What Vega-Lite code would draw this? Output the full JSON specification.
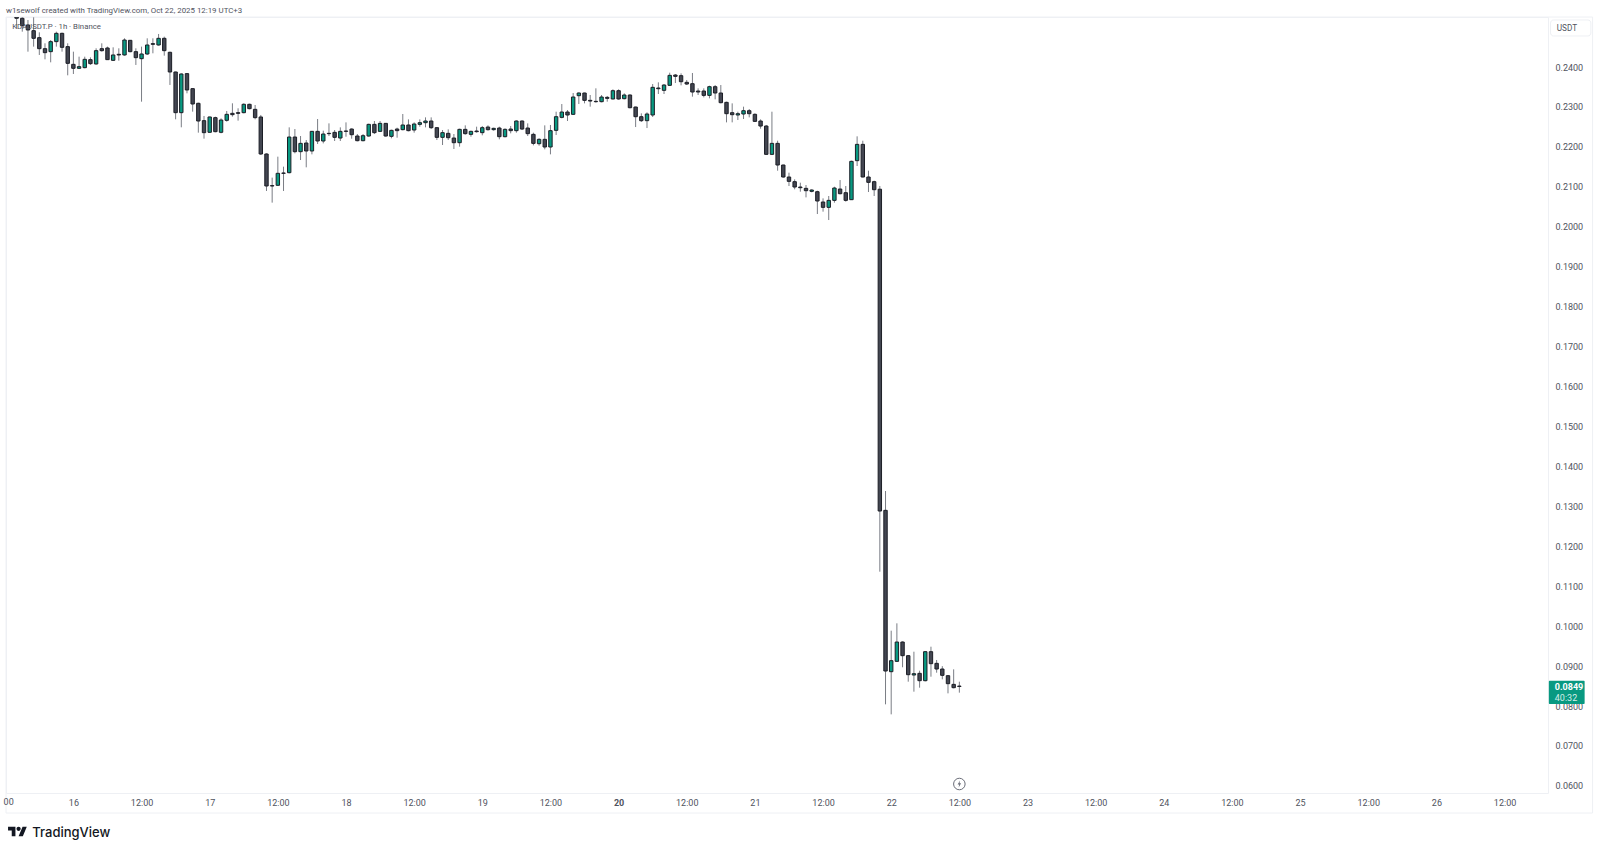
{"$schema":"https://vega.github.io/schema/vega-lite/v6.json","width":1542,"height":776,"autosize":{"type":"none"},"padding":{"left":6,"top":17,"right":52,"bottom":59},"background":"#ffffff","view":{"stroke":"#eef0f4","strokeWidth":1},
"title":{"text":"w1sewolf created with TradingView.com, Oct 22, 2025 12:19 UTC+3","anchor":"start","frame":"group","offset":2,"font":"Roboto","fontSize":7.9,"fontWeight":"normal","color":"#50535e"},
"config":{"font":"Roboto"},
"datasets":{"candles":[
{"t":"2025-10-15T14:00Z","o":0.2540,"h":0.2550,"l":0.2497,"c":0.2522},
{"t":"2025-10-15T15:00Z","o":0.25219,"h":0.25244,"l":0.24885,"c":0.25035},
{"t":"2025-10-15T16:00Z","o":0.25052,"h":0.25177,"l":0.24384,"c":0.24927},
{"t":"2025-10-15T17:00Z","o":0.24910,"h":0.25244,"l":0.24510,"c":0.24718},
{"t":"2025-10-15T18:00Z","o":0.24735,"h":0.24868,"l":0.24301,"c":0.24459},
{"t":"2025-10-15T19:00Z","o":0.24459,"h":0.24593,"l":0.24192,"c":0.24359},
{"t":"2025-10-15T20:00Z","o":0.24384,"h":0.24676,"l":0.24117,"c":0.24635},
{"t":"2025-10-15T21:00Z","o":0.24635,"h":0.24885,"l":0.24510,"c":0.24843},
{"t":"2025-10-15T22:00Z","o":0.24843,"h":0.24860,"l":0.24384,"c":0.24493},
{"t":"2025-10-15T23:00Z","o":0.24510,"h":0.24593,"l":0.23792,"c":0.24092},
{"t":"2025-10-16T00:00Z","o":0.24067,"h":0.24384,"l":0.23825,"c":0.23967},
{"t":"2025-10-16T01:00Z","o":0.23967,"h":0.24259,"l":0.23950,"c":0.24009},
{"t":"2025-10-16T02:00Z","o":0.23984,"h":0.24259,"l":0.23967,"c":0.24192},
{"t":"2025-10-16T03:00Z","o":0.24184,"h":0.24242,"l":0.24051,"c":0.24084},
{"t":"2025-10-16T04:00Z","o":0.24076,"h":0.24468,"l":0.24059,"c":0.24409},
{"t":"2025-10-16T05:00Z","o":0.24459,"h":0.24593,"l":0.24384,"c":0.24409},
{"t":"2025-10-16T06:00Z","o":0.24476,"h":0.24510,"l":0.24176,"c":0.24184},
{"t":"2025-10-16T07:00Z","o":0.24167,"h":0.24493,"l":0.24151,"c":0.24301},
{"t":"2025-10-16T08:00Z","o":0.24318,"h":0.24468,"l":0.24159,"c":0.24301},
{"t":"2025-10-16T09:00Z","o":0.24301,"h":0.24718,"l":0.24284,"c":0.24676},
{"t":"2025-10-16T10:00Z","o":0.24668,"h":0.24676,"l":0.24368,"c":0.24384},
{"t":"2025-10-16T11:00Z","o":0.24384,"h":0.24468,"l":0.24051,"c":0.24234},
{"t":"2025-10-16T12:00Z","o":0.24209,"h":0.24510,"l":0.23132,"c":0.24326},
{"t":"2025-10-16T13:00Z","o":0.24326,"h":0.24718,"l":0.24301,"c":0.24551},
{"t":"2025-10-16T14:00Z","o":0.24585,"h":0.24718,"l":0.24343,"c":0.24568},
{"t":"2025-10-16T15:00Z","o":0.24551,"h":0.24827,"l":0.24535,"c":0.24718},
{"t":"2025-10-16T16:00Z","o":0.24718,"h":0.24760,"l":0.24284,"c":0.24409},
{"t":"2025-10-16T17:00Z","o":0.24368,"h":0.24384,"l":0.23550,"c":0.23875},
{"t":"2025-10-16T18:00Z","o":0.23875,"h":0.23884,"l":0.22690,"c":0.22857},
{"t":"2025-10-16T19:00Z","o":0.22857,"h":0.23842,"l":0.22490,"c":0.23825},
{"t":"2025-10-16T20:00Z","o":0.23834,"h":0.23842,"l":0.23341,"c":0.23425},
{"t":"2025-10-16T21:00Z","o":0.23458,"h":0.23466,"l":0.22882,"c":0.23074},
{"t":"2025-10-16T22:00Z","o":0.23091,"h":0.23107,"l":0.22356,"c":0.22648},
{"t":"2025-10-16T23:00Z","o":0.22657,"h":0.22774,"l":0.22206,"c":0.22356},
{"t":"2025-10-17T00:00Z","o":0.22365,"h":0.22757,"l":0.22356,"c":0.22749},
{"t":"2025-10-17T01:00Z","o":0.22732,"h":0.22757,"l":0.22365,"c":0.22381},
{"t":"2025-10-17T02:00Z","o":0.22365,"h":0.22715,"l":0.22340,"c":0.22673},
{"t":"2025-10-17T03:00Z","o":0.22665,"h":0.22899,"l":0.22632,"c":0.22815},
{"t":"2025-10-17T04:00Z","o":0.22840,"h":0.23091,"l":0.22757,"c":0.22807},
{"t":"2025-10-17T05:00Z","o":0.22857,"h":0.22966,"l":0.22657,"c":0.22840},
{"t":"2025-10-17T06:00Z","o":0.22857,"h":0.23091,"l":0.22840,"c":0.23066},
{"t":"2025-10-17T07:00Z","o":0.23066,"h":0.23082,"l":0.22940,"c":0.22957},
{"t":"2025-10-17T08:00Z","o":0.22940,"h":0.23049,"l":0.22690,"c":0.22732},
{"t":"2025-10-17T09:00Z","o":0.22749,"h":0.22799,"l":0.21797,"c":0.21822},
{"t":"2025-10-17T10:00Z","o":0.21822,"h":0.21839,"l":0.20896,"c":0.21021},
{"t":"2025-10-17T11:00Z","o":0.21030,"h":0.21230,"l":0.20604,"c":0.21021},
{"t":"2025-10-17T12:00Z","o":0.21038,"h":0.21755,"l":0.21021,"c":0.21338},
{"t":"2025-10-17T13:00Z","o":0.21346,"h":0.21505,"l":0.20896,"c":0.21338},
{"t":"2025-10-17T14:00Z","o":0.21354,"h":0.22489,"l":0.21337,"c":0.22247},
{"t":"2025-10-17T15:00Z","o":0.22247,"h":0.22447,"l":0.21838,"c":0.21880},
{"t":"2025-10-17T16:00Z","o":0.21880,"h":0.22272,"l":0.21671,"c":0.22088},
{"t":"2025-10-17T17:00Z","o":0.22097,"h":0.22172,"l":0.21488,"c":0.21897},
{"t":"2025-10-17T18:00Z","o":0.21897,"h":0.22397,"l":0.21813,"c":0.22389},
{"t":"2025-10-17T19:00Z","o":0.22389,"h":0.22698,"l":0.22072,"c":0.22147},
{"t":"2025-10-17T20:00Z","o":0.22147,"h":0.22406,"l":0.22088,"c":0.22322},
{"t":"2025-10-17T21:00Z","o":0.22339,"h":0.22589,"l":0.22272,"c":0.22331},
{"t":"2025-10-17T22:00Z","o":0.22364,"h":0.22422,"l":0.22147,"c":0.22239},
{"t":"2025-10-17T23:00Z","o":0.22222,"h":0.22489,"l":0.22147,"c":0.22389},
{"t":"2025-10-18T00:00Z","o":0.22397,"h":0.22614,"l":0.22255,"c":0.22389},
{"t":"2025-10-18T01:00Z","o":0.22447,"h":0.22464,"l":0.22205,"c":0.22305},
{"t":"2025-10-18T02:00Z","o":0.22272,"h":0.22322,"l":0.22139,"c":0.22155},
{"t":"2025-10-18T03:00Z","o":0.22155,"h":0.22322,"l":0.22139,"c":0.22280},
{"t":"2025-10-18T04:00Z","o":0.22272,"h":0.22581,"l":0.22255,"c":0.22564},
{"t":"2025-10-18T05:00Z","o":0.22564,"h":0.22648,"l":0.22322,"c":0.22356},
{"t":"2025-10-18T06:00Z","o":0.22389,"h":0.22648,"l":0.22372,"c":0.22589},
{"t":"2025-10-18T07:00Z","o":0.22589,"h":0.22598,"l":0.22255,"c":0.22272},
{"t":"2025-10-18T08:00Z","o":0.22264,"h":0.22431,"l":0.22214,"c":0.22414},
{"t":"2025-10-18T09:00Z","o":0.22447,"h":0.22481,"l":0.22230,"c":0.22406},
{"t":"2025-10-18T10:00Z","o":0.22431,"h":0.22823,"l":0.22414,"c":0.22548},
{"t":"2025-10-18T11:00Z","o":0.22548,"h":0.22689,"l":0.22389,"c":0.22406},
{"t":"2025-10-18T12:00Z","o":0.22422,"h":0.22614,"l":0.22356,"c":0.22573},
{"t":"2025-10-18T13:00Z","o":0.22564,"h":0.22689,"l":0.22506,"c":0.22606},
{"t":"2025-10-18T14:00Z","o":0.22606,"h":0.22739,"l":0.22489,"c":0.22648},
{"t":"2025-10-18T15:00Z","o":0.22648,"h":0.22739,"l":0.22447,"c":0.22481},
{"t":"2025-10-18T16:00Z","o":0.22481,"h":0.22489,"l":0.22172,"c":0.22239},
{"t":"2025-10-18T17:00Z","o":0.22239,"h":0.22422,"l":0.22047,"c":0.22356},
{"t":"2025-10-18T18:00Z","o":0.22339,"h":0.22439,"l":0.22172,"c":0.22230},
{"t":"2025-10-18T19:00Z","o":0.22222,"h":0.22322,"l":0.21947,"c":0.22105},
{"t":"2025-10-18T20:00Z","o":0.22105,"h":0.22456,"l":0.22005,"c":0.22439},
{"t":"2025-10-18T21:00Z","o":0.22439,"h":0.22539,"l":0.22305,"c":0.22331},
{"t":"2025-10-18T22:00Z","o":0.22314,"h":0.22406,"l":0.22255,"c":0.22389},
{"t":"2025-10-18T23:00Z","o":0.22397,"h":0.22506,"l":0.22356,"c":0.22381},
{"t":"2025-10-19T00:00Z","o":0.22356,"h":0.22523,"l":0.22289,"c":0.22481},
{"t":"2025-10-19T01:00Z","o":0.22497,"h":0.22539,"l":0.22406,"c":0.22431},
{"t":"2025-10-19T02:00Z","o":0.22431,"h":0.22481,"l":0.22406,"c":0.22464},
{"t":"2025-10-19T03:00Z","o":0.22472,"h":0.22506,"l":0.22189,"c":0.22255},
{"t":"2025-10-19T04:00Z","o":0.22255,"h":0.22464,"l":0.22239,"c":0.22439},
{"t":"2025-10-19T05:00Z","o":0.22447,"h":0.22523,"l":0.22339,"c":0.22406},
{"t":"2025-10-19T06:00Z","o":0.22406,"h":0.22664,"l":0.22356,"c":0.22648},
{"t":"2025-10-19T07:00Z","o":0.22648,"h":0.22664,"l":0.22422,"c":0.22447},
{"t":"2025-10-19T08:00Z","o":0.22472,"h":0.22589,"l":0.22272,"c":0.22331},
{"t":"2025-10-19T09:00Z","o":0.22314,"h":0.22356,"l":0.22038,"c":0.22088},
{"t":"2025-10-19T10:00Z","o":0.22080,"h":0.22214,"l":0.22030,"c":0.22189},
{"t":"2025-10-19T11:00Z","o":0.22189,"h":0.22539,"l":0.21938,"c":0.21997},
{"t":"2025-10-19T12:00Z","o":0.21997,"h":0.22548,"l":0.21813,"c":0.22406},
{"t":"2025-10-19T13:00Z","o":0.22414,"h":0.22881,"l":0.22297,"c":0.22756},
{"t":"2025-10-19T14:00Z","o":0.22739,"h":0.23073,"l":0.22714,"c":0.22873},
{"t":"2025-10-19T15:00Z","o":0.22873,"h":0.22923,"l":0.22648,"c":0.22798},
{"t":"2025-10-19T16:00Z","o":0.22815,"h":0.23349,"l":0.22798,"c":0.23249},
{"t":"2025-10-19T17:00Z","o":0.23282,"h":0.23365,"l":0.23073,"c":0.23349},
{"t":"2025-10-19T18:00Z","o":0.23349,"h":0.23357,"l":0.23090,"c":0.23165},
{"t":"2025-10-19T19:00Z","o":0.23165,"h":0.23299,"l":0.23007,"c":0.23148},
{"t":"2025-10-19T20:00Z","o":0.23140,"h":0.23466,"l":0.23107,"c":0.23132},
{"t":"2025-10-19T21:00Z","o":0.23132,"h":0.23299,"l":0.23115,"c":0.23249},
{"t":"2025-10-19T22:00Z","o":0.23240,"h":0.23274,"l":0.23132,"c":0.23215},
{"t":"2025-10-19T23:00Z","o":0.23199,"h":0.23441,"l":0.23190,"c":0.23407},
{"t":"2025-10-20T00:00Z","o":0.23407,"h":0.23441,"l":0.23182,"c":0.23199},
{"t":"2025-10-20T01:00Z","o":0.23207,"h":0.23340,"l":0.23190,"c":0.23299},
{"t":"2025-10-20T02:00Z","o":0.23299,"h":0.23315,"l":0.22965,"c":0.22981},
{"t":"2025-10-20T03:00Z","o":0.22998,"h":0.23007,"l":0.22497,"c":0.22756},
{"t":"2025-10-20T04:00Z","o":0.22756,"h":0.22840,"l":0.22623,"c":0.22656},
{"t":"2025-10-20T05:00Z","o":0.22656,"h":0.22865,"l":0.22472,"c":0.22823},
{"t":"2025-10-20T06:00Z","o":0.22798,"h":0.23574,"l":0.22748,"c":0.23491},
{"t":"2025-10-20T07:00Z","o":0.23474,"h":0.23616,"l":0.23324,"c":0.23457},
{"t":"2025-10-20T08:00Z","o":0.23416,"h":0.23574,"l":0.23324,"c":0.23549},
{"t":"2025-10-20T09:00Z","o":0.23541,"h":0.23858,"l":0.23524,"c":0.23791},
{"t":"2025-10-20T10:00Z","o":0.23799,"h":0.23824,"l":0.23599,"c":0.23766},
{"t":"2025-10-20T11:00Z","o":0.23783,"h":0.23841,"l":0.23541,"c":0.23632},
{"t":"2025-10-20T12:00Z","o":0.23616,"h":0.23674,"l":0.23549,"c":0.23574},
{"t":"2025-10-20T13:00Z","o":0.23582,"h":0.23850,"l":0.23257,"c":0.23374},
{"t":"2025-10-20T14:00Z","o":0.23399,"h":0.23466,"l":0.23299,"c":0.23374},
{"t":"2025-10-20T15:00Z","o":0.23399,"h":0.23466,"l":0.23240,"c":0.23290},
{"t":"2025-10-20T16:00Z","o":0.23290,"h":0.23532,"l":0.23215,"c":0.23507},
{"t":"2025-10-20T17:00Z","o":0.23507,"h":0.23549,"l":0.23190,"c":0.23349},
{"t":"2025-10-20T18:00Z","o":0.23349,"h":0.23549,"l":0.23090,"c":0.23107},
{"t":"2025-10-20T19:00Z","o":0.23115,"h":0.23132,"l":0.22614,"c":0.22831},
{"t":"2025-10-20T20:00Z","o":0.22856,"h":0.23090,"l":0.22614,"c":0.22806},
{"t":"2025-10-20T21:00Z","o":0.22798,"h":0.22881,"l":0.22673,"c":0.22831},
{"t":"2025-10-20T22:00Z","o":0.22823,"h":0.23007,"l":0.22698,"c":0.22906},
{"t":"2025-10-20T23:00Z","o":0.22906,"h":0.22948,"l":0.22739,"c":0.22831},
{"t":"2025-10-21T00:00Z","o":0.22815,"h":0.22840,"l":0.22623,"c":0.22639},
{"t":"2025-10-21T01:00Z","o":0.22648,"h":0.22689,"l":0.22456,"c":0.22522},
{"t":"2025-10-21T02:00Z","o":0.22522,"h":0.22548,"l":0.21805,"c":0.21813},
{"t":"2025-10-21T03:00Z","o":0.21813,"h":0.22881,"l":0.21796,"c":0.22088},
{"t":"2025-10-21T04:00Z","o":0.22088,"h":0.22155,"l":0.21404,"c":0.21546},
{"t":"2025-10-21T05:00Z","o":0.21546,"h":0.21554,"l":0.21229,"c":0.21246},
{"t":"2025-10-21T06:00Z","o":0.21246,"h":0.21354,"l":0.21020,"c":0.21137},
{"t":"2025-10-21T07:00Z","o":0.21129,"h":0.21187,"l":0.20937,"c":0.20995},
{"t":"2025-10-21T08:00Z","o":0.20995,"h":0.21104,"l":0.20878,"c":0.20978},
{"t":"2025-10-21T09:00Z","o":0.20962,"h":0.21045,"l":0.20736,"c":0.20903},
{"t":"2025-10-21T10:00Z","o":0.20887,"h":0.20937,"l":0.20862,"c":0.20920},
{"t":"2025-10-21T11:00Z","o":0.20878,"h":0.20903,"l":0.20319,"c":0.20645},
{"t":"2025-10-21T12:00Z","o":0.20620,"h":0.20711,"l":0.20378,"c":0.20486},
{"t":"2025-10-21T13:00Z","o":0.20486,"h":0.20770,"l":0.20169,"c":0.20661},
{"t":"2025-10-21T14:00Z","o":0.20661,"h":0.21003,"l":0.20603,"c":0.20970},
{"t":"2025-10-21T15:00Z","o":0.20945,"h":0.21170,"l":0.20811,"c":0.20828},
{"t":"2025-10-21T16:00Z","o":0.20853,"h":0.21020,"l":0.20628,"c":0.20661},
{"t":"2025-10-21T17:00Z","o":0.20678,"h":0.21655,"l":0.20670,"c":0.21638},
{"t":"2025-10-21T18:00Z","o":0.21655,"h":0.22264,"l":0.21521,"c":0.22063},
{"t":"2025-10-21T19:00Z","o":0.22063,"h":0.22155,"l":0.21237,"c":0.21246},
{"t":"2025-10-21T20:00Z","o":0.21246,"h":0.21404,"l":0.20870,"c":0.21112},
{"t":"2025-10-21T21:00Z","o":0.21129,"h":0.21154,"l":0.20770,"c":0.20928},
{"t":"2025-10-21T22:00Z","o":0.2094,"h":0.2102,"l":0.11364,"c":0.12883},
{"t":"2025-10-21T23:00Z","o":0.12900,"h":0.13384,"l":0.08043,"c":0.08877},
{"t":"2025-10-22T00:00Z","o":0.08860,"h":0.09887,"l":0.07792,"c":0.09136},
{"t":"2025-10-22T01:00Z","o":0.09119,"h":0.10071,"l":0.09103,"c":0.09603},
{"t":"2025-10-22T02:00Z","o":0.09603,"h":0.09620,"l":0.08971,"c":0.09261},
{"t":"2025-10-22T03:00Z","o":0.09261,"h":0.09278,"l":0.08610,"c":0.08785},
{"t":"2025-10-22T04:00Z","o":0.08777,"h":0.09361,"l":0.08360,"c":0.08810},
{"t":"2025-10-22T05:00Z","o":0.08819,"h":0.08885,"l":0.08460,"c":0.08635},
{"t":"2025-10-22T06:00Z","o":0.08635,"h":0.09378,"l":0.08618,"c":0.09361},
{"t":"2025-10-22T07:00Z","o":0.09361,"h":0.09486,"l":0.08735,"c":0.09061},
{"t":"2025-10-22T08:00Z","o":0.09069,"h":0.09153,"l":0.08835,"c":0.08927},
{"t":"2025-10-22T09:00Z","o":0.08927,"h":0.08999,"l":0.08669,"c":0.08769},
{"t":"2025-10-22T10:00Z","o":0.08760,"h":0.08777,"l":0.08318,"c":0.08560},
{"t":"2025-10-22T11:00Z","o":0.08543,"h":0.08919,"l":0.08443,"c":0.08460},
{"t":"2025-10-22T12:00Z","o":0.08500,"h":0.08610,"l":0.08335,"c":0.08490}
]},
"encoding":{
"x":{"field":"t","type":"temporal","scale":{"type":"utc","domain":["2025-10-15T12:08Z","2025-10-26T19:39Z"],"nice":false,"padding":0},
"axis":{"title":null,"orient":"bottom","domain":false,"ticks":false,"grid":false,"labelFont":"Roboto","labelFontSize":9,"labelColor":"#50535e","labelPadding":5,"labelOverlap":false,"labelFlush":false,"labelBound":false,"labelAngle":0,
"values":["2025-10-16T00:00Z","2025-10-16T12:00Z","2025-10-17T00:00Z","2025-10-17T12:00Z","2025-10-18T00:00Z","2025-10-18T12:00Z","2025-10-19T00:00Z","2025-10-19T12:00Z","2025-10-20T00:00Z","2025-10-20T12:00Z","2025-10-21T00:00Z","2025-10-21T12:00Z","2025-10-22T00:00Z","2025-10-22T12:00Z","2025-10-23T00:00Z","2025-10-23T12:00Z","2025-10-24T00:00Z","2025-10-24T12:00Z","2025-10-25T00:00Z","2025-10-25T12:00Z","2025-10-26T00:00Z","2025-10-26T12:00Z"],
"labelExpr":"utchours(datum.value)==0 ? utcFormat(datum.value,'%-d') : '12:00'",
"labelFontWeight":{"condition":{"test":"utcdate(datum.value)==20 && utchours(datum.value)==0","value":"bold"},"value":"normal"}}},
"y":{"field":"p","type":"quantitative","scale":{"domain":[0.05823,0.25252],"zero":false,"nice":false},
"axis":{"title":null,"orient":"right","domain":false,"ticks":false,"grid":false,"labelFont":"Roboto","labelFontSize":9,"labelColor":"#50535e","labelPadding":7,"labelOverlap":false,"labelBound":false,"labelFlush":false,"format":".4f",
"values":[0.06,0.07,0.08,0.09,0.10,0.11,0.12,0.13,0.14,0.15,0.16,0.17,0.18,0.19,0.20,0.21,0.22,0.23,0.24]}}
},
"layer":[
{"data":{"values":[{"t":"2025-10-15T12:08Z","t2":"2025-10-27T03:30Z","p":0.25252,"p2":0.05322}]},"mark":{"type":"rect","clip":false,"fillOpacity":0,"stroke":"#eef0f4","strokeWidth":1},"encoding":{"x2":{"field":"t2"},"y2":{"field":"p2"}}},
{"data":{"name":"candles"},"mark":{"type":"rule","clip":true,"color":"#7a7d85","strokeWidth":1},
"encoding":{"y":{"field":"l","type":"quantitative","scale":{"domain":[0.05823,0.25252],"zero":false,"nice":false},"axis":{"title":null,"orient":"right","domain":false,"ticks":false,"grid":false,"labelFont":"Roboto","labelFontSize":9,"labelColor":"#50535e","labelPadding":7,"labelOverlap":false,"labelBound":false,"labelFlush":false,"format":".4f","values":[0.06,0.07,0.08,0.09,0.10,0.11,0.12,0.13,0.14,0.15,0.16,0.17,0.18,0.19,0.20,0.21,0.22,0.23,0.24]}},"y2":{"field":"h"}}},
{"data":{"name":"candles"},"mark":{"type":"bar","clip":true,"size":3.4,"stroke":"#1c1e26","strokeWidth":1},
"encoding":{"y":{"field":"o","type":"quantitative","scale":{"domain":[0.05823,0.25252],"zero":false,"nice":false},"axis":{"title":null,"orient":"right","domain":false,"ticks":false,"grid":false,"labelFont":"Roboto","labelFontSize":9,"labelColor":"#50535e","labelPadding":7,"labelOverlap":false,"labelBound":false,"labelFlush":false,"format":".4f","values":[0.06,0.07,0.08,0.09,0.10,0.11,0.12,0.13,0.14,0.15,0.16,0.17,0.18,0.19,0.20,0.21,0.22,0.23,0.24]}},"y2":{"field":"c"},
"fill":{"condition":{"test":"datum.c>datum.o","value":"#089981"},"value":"#434651"}}},
{"data":{"values":[{"t":"2025-10-15T13:13Z","p":0.25001,"label":"KDAUSDT.P · 1h · Binance"}]},"mark":{"type":"text","align":"left","baseline":"middle","font":"Roboto","fontSize":7.8,"color":"#50535e","clip":false},"encoding":{"text":{"field":"label"}}},
{"data":{"values":[{"t":"2025-10-15T12:36Z","p":0.05597,"label":"00"}]},"mark":{"type":"text","align":"center","baseline":"middle","font":"Roboto","fontSize":9,"color":"#50535e","clip":false},"encoding":{"text":{"field":"label"}}},
{"data":{"values":[{"t":"2025-10-26T20:06Z","t2":"2025-10-27T03:12Z","p":0.25177,"p2":0.24777}]},"mark":{"type":"rect","clip":false,"fill":"#ffffff","stroke":"#eef0f4","strokeWidth":1,"cornerRadius":3},"encoding":{"x2":{"field":"t2"},"y2":{"field":"p2"}}},
{"data":{"values":[{"t":"2025-10-26T21:12Z","p":0.24952,"label":"USDT"}]},"mark":{"type":"text","align":"left","baseline":"middle","font":"Roboto","fontSize":8.2,"color":"#50535e","clip":false},"encoding":{"text":{"field":"label"}}},
{"data":{"values":[{"t":"2025-10-26T19:48Z","t2":"2025-10-27T02:06Z","p":0.08634,"p2":0.08051}]},"mark":{"type":"rect","clip":false,"fill":"#089981","cornerRadius":1},"encoding":{"x2":{"field":"t2"},"y2":{"field":"p2"}}},
{"data":{"values":[{"t":"2025-10-26T20:51Z","p":0.08477,"label":"0.0849"}]},"mark":{"type":"text","align":"left","baseline":"middle","font":"Roboto","fontSize":9,"fontWeight":"bold","color":"#ffffff","clip":false},"encoding":{"text":{"field":"label"}}},
{"data":{"values":[{"t":"2025-10-26T20:51Z","p":0.08201,"label":"40:32"}]},"mark":{"type":"text","align":"left","baseline":"middle","font":"Roboto","fontSize":9,"color":"#d5efe9","clip":false},"encoding":{"text":{"field":"label"}}},
{"data":{"values":[{"t":"2025-10-22T12:00Z","p":0.06048}]},"mark":{"type":"point","shape":"circle","size":133,"filled":false,"stroke":"#6a6d78","strokeWidth":1,"clip":false,"opacity":1}},
{"data":{"values":[{"t":"2025-10-22T12:00Z","p":0.06048}]},"mark":{"type":"point","shape":"M0.2 -1 L-0.5 0.15 L-0.05 0.15 L-0.2 1 L0.5 -0.2 L0.05 -0.2 Z","size":49,"filled":true,"fill":"#6a6d78","clip":false,"opacity":1}},
{"data":{"values":[{"t":"2025-10-15T14:10Z","p":0.04860}]},"mark":{"type":"point","shape":"M-0.222 0.5 L-0.611 0.5 L-0.611 -0.111 L-1 -0.111 L-1 -0.5 L-0.222 -0.5 Z M0.556 0.5 L0.111 0.5 L0.528 -0.5 L0.972 -0.5 Z M-0.111 -0.278 A0.222 0.222 0 1 0 0.333 -0.278 A0.222 0.222 0 1 0 -0.111 -0.278 Z","size":361,"filled":true,"fill":"#131722","clip":false,"opacity":1}},
{"data":{"values":[{"t":"2025-10-15T16:46Z","p":0.04828,"label":"TradingView"}]},"mark":{"type":"text","align":"left","baseline":"middle","font":"Inter","fontSize":13,"fontWeight":500,"color":"#131722","clip":false},"encoding":{"text":{"field":"label"}}}
]}
